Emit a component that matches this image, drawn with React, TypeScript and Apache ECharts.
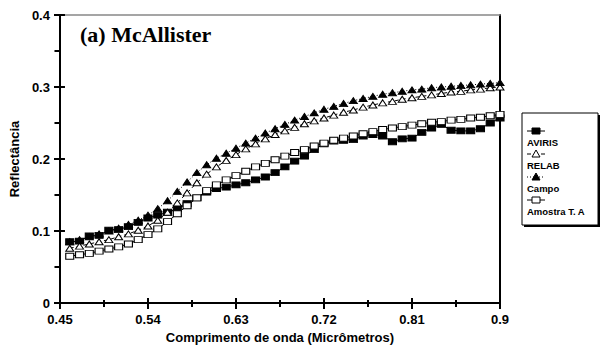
import React, { useEffect, useRef } from "react";
import * as echarts from "echarts";

const wavelengths = [
  0.46, 0.47, 0.48, 0.49, 0.5, 0.51, 0.52, 0.53, 0.54, 0.55, 0.56, 0.57, 0.58, 0.59, 0.6,
  0.61, 0.62, 0.63, 0.64, 0.65, 0.66, 0.67, 0.68, 0.69, 0.7, 0.71, 0.72, 0.73, 0.74, 0.75,
  0.76, 0.77, 0.78, 0.79, 0.8, 0.81, 0.82, 0.83, 0.84, 0.85, 0.86, 0.87, 0.88, 0.89, 0.9,
];

const aviris = [
  0.085, 0.086, 0.093, 0.094, 0.101, 0.102, 0.106, 0.112, 0.118, 0.122, 0.126, 0.131, 0.138, 0.146, 0.154,
  0.159, 0.161, 0.164, 0.167, 0.171, 0.175, 0.181, 0.189, 0.197, 0.204, 0.213, 0.221, 0.225, 0.226, 0.227,
  0.232, 0.234, 0.232, 0.224, 0.228, 0.229, 0.237, 0.243, 0.248, 0.24, 0.239, 0.239, 0.242, 0.25, 0.257,
];

const relab = [
  0.076, 0.079, 0.082, 0.085, 0.088, 0.092, 0.096, 0.101, 0.107, 0.115, 0.126, 0.139, 0.153, 0.167, 0.179,
  0.189, 0.198, 0.206, 0.214, 0.221, 0.228, 0.234, 0.239, 0.244, 0.249, 0.253, 0.257, 0.261, 0.265, 0.268,
  0.272, 0.275, 0.278, 0.28, 0.283, 0.285, 0.287, 0.289, 0.291, 0.293, 0.294, 0.296, 0.297, 0.299, 0.3,
];

const campo = [
  0.085, 0.088, 0.092, 0.096, 0.1, 0.104, 0.109, 0.115, 0.122, 0.131, 0.142, 0.155, 0.168, 0.181, 0.192,
  0.201, 0.208, 0.215, 0.222, 0.229, 0.236, 0.242, 0.248, 0.254, 0.259, 0.264, 0.269, 0.273, 0.277, 0.281,
  0.284, 0.287, 0.29, 0.292, 0.294, 0.296, 0.297, 0.299, 0.3, 0.301, 0.302, 0.303, 0.304, 0.305, 0.306,
];

const amostra = [
  0.065, 0.067, 0.069, 0.072, 0.075, 0.078, 0.082, 0.088, 0.095, 0.103, 0.113, 0.124, 0.135, 0.146, 0.156,
  0.164, 0.171, 0.177, 0.183, 0.189, 0.194, 0.199, 0.204, 0.209, 0.213, 0.218, 0.222, 0.226, 0.229, 0.232,
  0.235, 0.238, 0.241, 0.243, 0.245, 0.247, 0.249, 0.251, 0.252, 0.254, 0.255, 0.257, 0.258, 0.26, 0.262,
];

// tick positions on the axes
const xMajorTicks = [0.45, 0.54, 0.63, 0.72, 0.81, 0.9];
const xMinorTicks = [0.495, 0.585, 0.675, 0.765, 0.855];
const yMajorTicks = [0, 0.1, 0.2, 0.3, 0.4];
const yMinorTicks = [0.05, 0.15, 0.25, 0.35];

const seriesNames = ["AVIRIS", "RELAB", "Campo", "Amostra T. A"];
const titleText = "(a) McAllister";
const xAxisName = "Comprimento de onda (Micrômetros)";
const yAxisName = "Reflectância";

const SANS = "Liberation Sans, Arial, sans-serif";
const SERIF = "Liberation Serif, Times New Roman, serif";

const X_MIN = 0.45;
const X_MAX = 0.9;
const X_STEP = 0.09;
const Y_MIN = 0;
const Y_MAX = 0.4;
const Y_STEP = 0.1;

const toPairs = (vals: number[]) => wavelengths.map((x, i) => [x, vals[i]]);

type Sty = { symbol: string; fill: string; lineType: any };
const styles: Sty[] = [
  { symbol: "rect", fill: "#000", lineType: "solid" },
  { symbol: "triangle", fill: "#fff", lineType: [4, 3] },
  { symbol: "triangle", fill: "#000", lineType: [1, 2] },
  { symbol: "rect", fill: "#fff", lineType: "solid" },
];
const seriesValues = [aviris, relab, campo, amostra];

function legendGraphic() {
  const left = 522;
  const top = 113;
  const w = 76;
  const h = 112;
  const children: any[] = [
    { type: "rect", shape: { x: left + 2, y: top + 2, width: w, height: h }, style: { fill: "#000" } },
    { type: "rect", shape: { x: left, y: top, width: w, height: h }, style: { fill: "#fff", stroke: "#000", lineWidth: 1 } },
  ];
  seriesNames.forEach((name, i) => {
    const sy = top + 18 + 23 * i;
    const ty = top + 29 + 23 * i;
    const st = styles[i];
    children.push({
      type: "line",
      shape: { x1: 527, y1: sy, x2: 545, y2: sy },
      style: { stroke: "#000", lineWidth: 1, lineDash: st.lineType === "solid" ? null : st.lineType },
    });
    if (st.symbol === "rect") {
      children.push({
        type: "rect",
        shape: { x: 532, y: sy - 3, width: 8, height: 6 },
        style: { fill: st.fill, stroke: "#000", lineWidth: 1 },
      });
    } else {
      children.push({
        type: "polygon",
        shape: { points: [[536, sy - 4], [540, sy + 3], [532, sy + 3]] },
        style: { fill: st.fill, stroke: "#000", lineWidth: 1 },
      });
    }
    children.push({
      type: "text",
      style: {
        x: 527,
        y: ty,
        text: name,
        fill: "#000",
        font: `bold 9.5px ${SANS}`,
        textVerticalAlign: "middle",
        verticalAlign: "middle",
      },
    });
  });
  return { type: "group", children };
}

function tickSeries(name: string, data: number[][], size: number[], offset: number[]) {
  return {
    name,
    type: "scatter",
    xAxisIndex: 0,
    yAxisIndex: 0,
    data,
    symbol: "rect",
    symbolSize: size,
    symbolOffset: offset,
    clip: false,
    silent: true,
    z: 10,
    itemStyle: { color: "#000", opacity: 1 },
    emphasis: { disabled: true },
  };
}

export default function App() {
  const ref = useRef<HTMLDivElement>(null);
  useEffect(() => {
    const chart = echarts.init(ref.current!, null, { renderer: "svg" });
    const xFmt = (v: number) => String(parseFloat(v.toFixed(2)));
    const yFmt = (v: number) => (v === 0 ? "0" : v.toFixed(1));
    const labelStyle = { fontSize: 13, fontWeight: "bold", color: "#000", fontFamily: SANS };
    const option: any = {
      animation: false,
      backgroundColor: "#fff",
      title: {
        text: titleText,
        left: 75,
        top: 18,
        textStyle: { fontFamily: SERIF, fontWeight: "bold", fontSize: 22, color: "#000" },
      },
      grid: { left: 58, right: 100, top: 15, bottom: 46, containLabel: false },
      xAxis: [
        {
          type: "value",
          position: "bottom",
          min: X_MIN,
          max: X_MAX,
          interval: X_STEP,
          axisLine: { show: true, onZero: false, lineStyle: { color: "#000", width: 2 } },
          axisTick: { show: false },
          splitLine: { show: false },
          axisLabel: { ...labelStyle, formatter: xFmt, margin: 10 },
          name: xAxisName,
          nameLocation: "middle",
          nameGap: 25,
          nameTextStyle: labelStyle,
        },
        {
          type: "value",
          position: "top",
          min: X_MIN,
          max: X_MAX,
          interval: X_STEP,
          axisLine: { show: true, onZero: false, lineStyle: { color: "#888", width: 1.5 } },
          axisTick: { show: false },
          splitLine: { show: false },
          axisLabel: { show: false },
        },
      ],
      yAxis: [
        {
          type: "value",
          position: "left",
          min: Y_MIN,
          max: Y_MAX,
          interval: Y_STEP,
          axisLine: { show: true, onZero: false, lineStyle: { color: "#000", width: 2 } },
          axisTick: { show: false },
          splitLine: { show: false },
          axisLabel: { ...labelStyle, formatter: yFmt, margin: 10 },
          name: yAxisName,
          nameLocation: "middle",
          nameGap: 36,
          nameTextStyle: labelStyle,
        },
        {
          type: "value",
          position: "right",
          min: Y_MIN,
          max: Y_MAX,
          interval: Y_STEP,
          axisLine: { show: true, onZero: false, lineStyle: { color: "#000", width: 2 } },
          axisTick: { show: false },
          splitLine: { show: false },
          axisLabel: { show: false },
        },
      ],
      series: [
        ...seriesNames.map((name, i) => ({
          name,
          type: "line",
          xAxisIndex: 0,
          yAxisIndex: 0,
          data: toPairs(seriesValues[i]),
          symbol: styles[i].symbol,
          symbolSize: [8, 6],
          showAllSymbol: true,
          lineStyle: { color: "#000", width: 1, type: styles[i].lineType },
          itemStyle: { color: styles[i].fill, borderColor: "#000", borderWidth: 1 },
          emphasis: { disabled: true },
        })),
        tickSeries("xMajor", xMajorTicks.map((v) => [v, Y_MIN]), [2, 11], [0, 0.5]),
        tickSeries("xMinor", xMinorTicks.map((v) => [v, Y_MIN]), [2, 7], [0, 0.5]),
        tickSeries("yMajor", yMajorTicks.map((v) => [X_MIN, v]), [11, 2], [-0.5, 0]),
        tickSeries("yMinor", yMinorTicks.map((v) => [X_MIN, v]), [5, 2], [-3, 0]),
      ],
      graphic: [legendGraphic()],
    };
    chart.setOption(option);
    return () => chart.dispose();
  }, []);
  return <div ref={ref} style={{ position: "fixed", left: 0, top: 0, width: 600, height: 349 }} />;
}
